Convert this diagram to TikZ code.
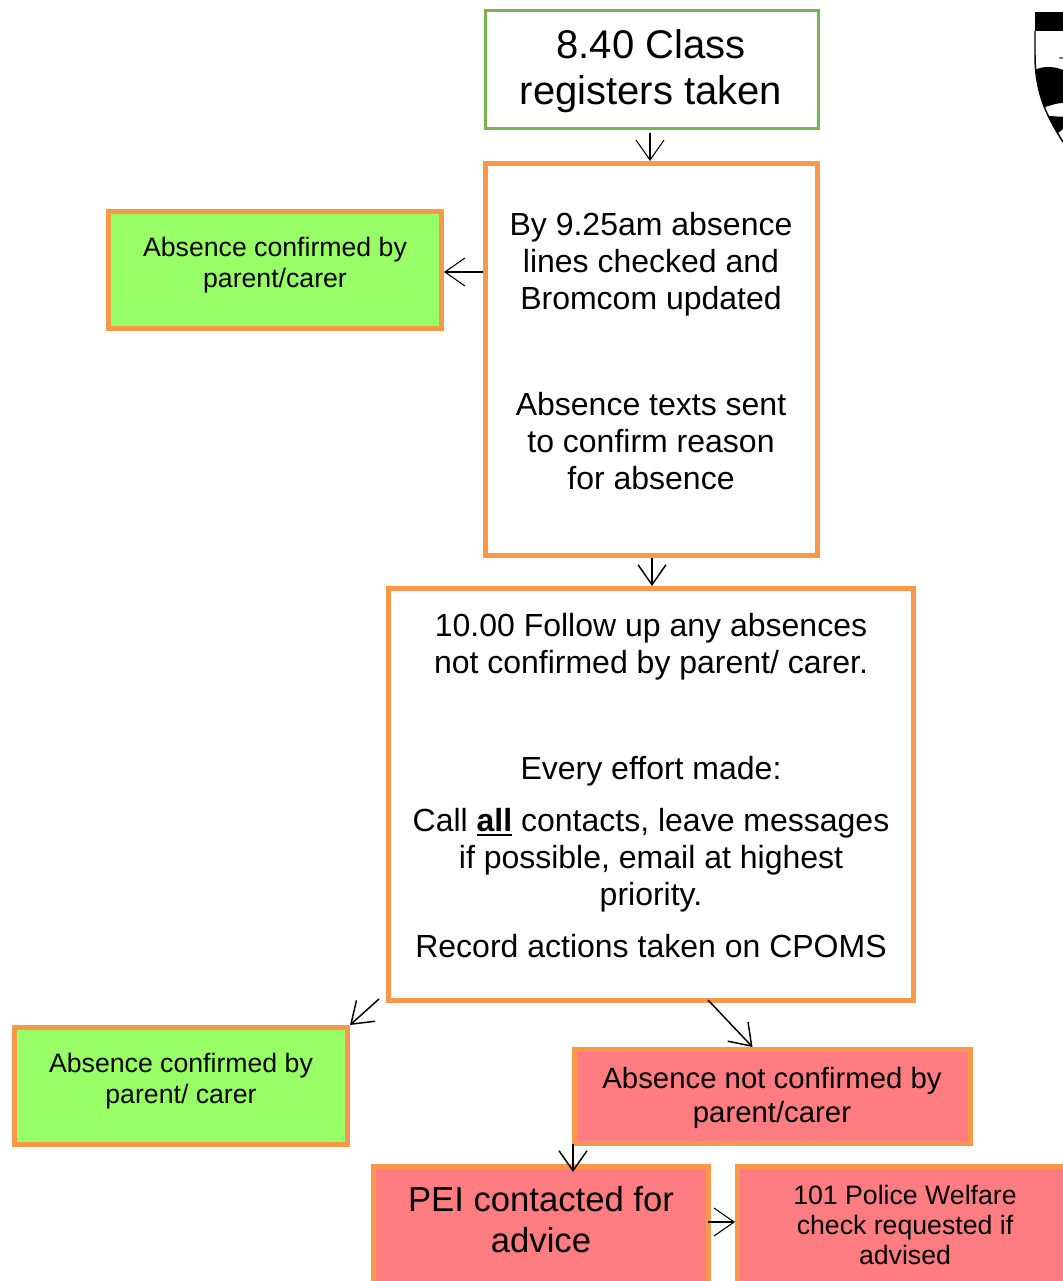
\documentclass[tikz,border=0pt]{standalone}
\usepackage{fontspec}
\setmainfont{Liberation Sans}
\usetikzlibrary{arrows.meta,calc}
\newcommand{\fs}[2]{\fontsize{#1}{#2}\selectfont}
\newcommand{\thul}[1]{\setbox0\hbox{#1}\rlap{\rule[-3pt]{\wd0}{1.5pt}}\box0\relax}
\definecolor{boxorange}{HTML}{F9984A}
\definecolor{boxgreen}{HTML}{7CB154}
\definecolor{fillgreen}{HTML}{99FF66}
\definecolor{fillred}{HTML}{FF7C80}
\tikzset{
  x=0.75pt,y=-0.75pt,
  box/.style={rectangle,draw=boxorange,line width=3.75pt,inner sep=0pt,anchor=north west,line join=miter},
  regbox/.style={box,draw=boxgreen,line width=2.25pt},
  okbox/.style={box,fill=fillgreen},
  nobox/.style={box,fill=fillred},
  lbl/.style={inner sep=0pt,align=center,text=black},
  arr/.style={draw=black,line width=0.8pt,-{Straight Barb[length=15pt,width=21pt,line width=0.8pt]}},
  arrb/.style={draw=black,line width=1.1pt,-{Straight Barb[length=15pt,width=21pt,line width=1.1pt]}}
}
\begin{document}
\begin{tikzpicture}
\useasboundingbox (0,0) rectangle (1063,1281);
\clip (0,0) rectangle (1063,1281);
% shield
\begin{scope}
\clip (1035,12) -- (1075,12) -- (1075,150) -- (1063,142) .. controls (1048,118) and (1035,95) .. (1035,55) -- cycle;
\fill[white] (1035,12) rectangle (1075,150);
\fill[black] (1035,12) rectangle (1075,31);
\fill[black] (1035,70) .. controls (1042,66) and (1054,66) .. (1063,70) -- (1075,70) -- (1075,104) -- (1063,103) .. controls (1057,103) and (1052,105) .. (1045,107) -- (1035,107) -- cycle;
\fill[black] (1048,116) .. controls (1053,116) and (1058,117) .. (1075,117) -- (1075,129) -- (1063,129) -- (1058,133) -- (1050,125) -- cycle;
\fill[gray] (1059,57.5) rectangle (1075,59.5);
\end{scope}
\draw[black,line width=1.1pt] (1035,31) -- (1035,55) .. controls (1035,95) and (1048,118) .. (1063,142);
% boxes
\node[regbox,minimum width=333*0.75pt,minimum height=117*0.75pt] (reg) at (483.5,9.5) {};
\node[box,minimum width=332*0.75pt,minimum height=392*0.75pt] (main) at (483,161) {};
\node[okbox,minimum width=333*0.75pt,minimum height=117*0.75pt] (okA) at (106,209) {};
\node[box,minimum width=525*0.75pt,minimum height=412*0.75pt] (mid) at (386,586) {};
\node[okbox,minimum width=333*0.75pt,minimum height=117*0.75pt] (okB) at (12,1025) {};
\node[nobox,minimum width=396*0.75pt,minimum height=94*0.75pt] (noc) at (572,1047) {};
\node[nobox,minimum width=335*0.75pt,minimum height=130*0.75pt] (pei) at (371,1164) {};
\node[nobox,minimum width=330*0.75pt,minimum height=130*0.75pt] (pol) at (735,1164) {};
% labels
\node[lbl,font=\fs{30}{34.5}] (tReg) at (651,71) {8.40 Class\\registers taken};
\node[lbl,font=\fs{24}{27.75}] (tMain) at (651,351) {By 9.25am absence\\lines checked and\\Bromcom updated\\[51.75pt]Absence texts sent\\to confirm reason\\for absence};
\node[lbl,font=\fs{24}{27.75}] (tMid) at (651,786) {10.00 Follow up any absences\\not confirmed by parent/ carer.\\[51.75pt]Every effort made:\\[11.25pt]Call \thul{\textbf{all}} contacts, leave messages\\if possible, email at highest\\priority.\\[11.25pt]Record actions taken on CPOMS};
\node[lbl,font=\fs{20}{23.25}] (tOkA) at (275,265) {Absence confirmed by\\parent/carer};
\node[lbl,font=\fs{20}{23.25}] (tOkB) at (181,1081) {Absence confirmed by\\parent/ carer};
\node[lbl,font=\fs{22}{25.5}] (tNoc) at (772,1098) {Absence not confirmed by\\parent/carer};
\node[lbl,font=\fs{26}{30.75}] (tPei) at (541,1220) {PEI contacted for\\advice};
\node[lbl,font=\fs{20}{22.5}] (tPol) at (905,1225) {101 Police Welfare\\check requested if\\advised};
% connectors
\coordinate (c1) at (650,133);
\coordinate (c2) at (483,272);
\coordinate (c3) at (652,558);
\coordinate (c4) at (379,999);
\coordinate (c5) at (708,1000);
\coordinate (c6) at (573,1144);
\coordinate (c7) at (708,1222);
\draw[arr] (c1) -- (c1 |- main.north);
\draw[arr] (c2) -- (c2 -| okA.east);
\draw[arrb] (c3) -- (c3 |- mid.north);
\draw[arrb] (c4) -- (okB.north east);
\draw[arrb] (c5) -- ([xshift=-20*0.75pt]noc.north);
\draw[arrb] (c6) -- ($(c6 |- pei.north)+(0,8)$);
\draw[arr] (c7) -- (c7 -| pol.west);
\end{tikzpicture}
\end{document}
